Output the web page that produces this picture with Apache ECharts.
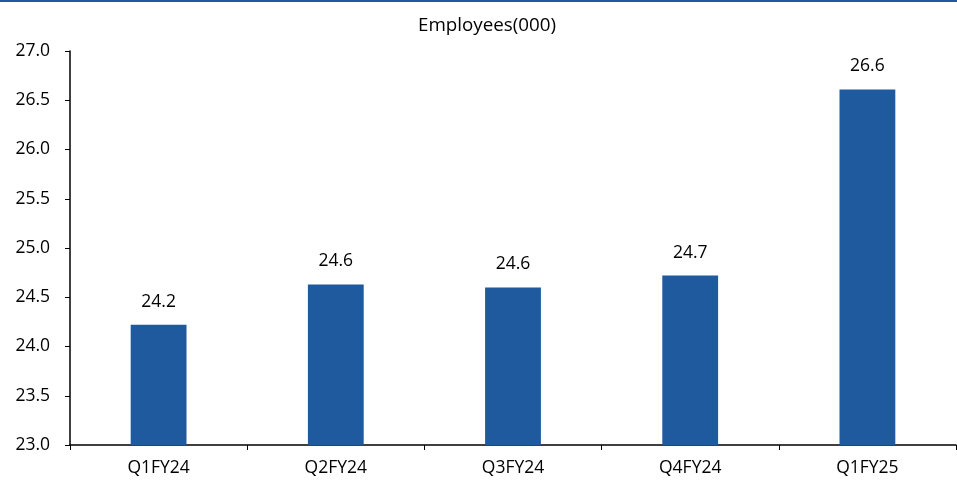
<!DOCTYPE html>
<html><head><meta charset="utf-8">
<script src="https://cdn.jsdelivr.net/npm/echarts@6/dist/echarts.min.js"></script>
<style>html,body{margin:0;padding:0;background:#fff}#c{width:957px;height:482px;position:relative}</style>
</head><body><div id="c"></div>
<script>
const categories = ['Q1FY24','Q2FY24','Q3FY24','Q4FY24','Q1FY25'];
const employees = [24.22, 24.63, 24.60, 24.72, 26.61];
const labels = ['24.2','24.6','24.6','24.7','26.6'];
const chart = echarts.init(document.getElementById('c'));
const font = 'Open Sans';
chart.setOption({
  animation:false,
  graphic:[{type:'rect',shape:{x:0,y:0,width:957,height:2},style:{fill:'#1F5A9E'}}],
  title:{text:'Employees(000)',left:413,top:11,textStyle:{fontFamily:font,fontSize:18.8,fontWeight:'normal',color:'#000'}},
  grid:{left:70,right:1,top:51,bottom:37},
  xAxis:{type:'category',data:categories,
    axisLine:{lineStyle:{color:'#000',width:1.5}},
    axisTick:{show:true,length:5,lineStyle:{color:'#000'},alignWithLabel:false},
    axisLabel:{fontFamily:font,fontSize:17.5,color:'#000',margin:14}},
  yAxis:{type:'value',min:23,max:27,interval:0.5,
    axisLine:{show:true,lineStyle:{color:'#000',width:1.5}},
    axisTick:{show:true,length:5,lineStyle:{color:'#000'}},
    splitLine:{show:false},
    axisLabel:{fontFamily:font,fontSize:17.5,color:'#000',margin:20,formatter:v=>v.toFixed(1)}},
  series:[{type:'bar',data:employees,barWidth:'31.5%',itemStyle:{color:'#1F5A9E'},
    label:{show:true,position:'top',distance:14,fontFamily:font,fontSize:17.5,color:'#000',
      formatter:p=>labels[p.dataIndex]}}]
});
</script></body></html>
